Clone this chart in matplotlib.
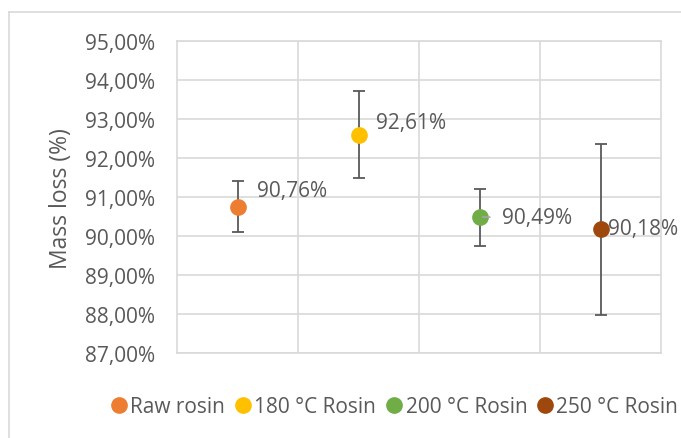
import matplotlib

matplotlib.use("Agg")

import matplotlib.pyplot as plt
from matplotlib.lines import Line2D
from matplotlib.ticker import FuncFormatter

# values
labels = ["Raw rosin", "180 °C Rosin", "200 °C Rosin", "250 °C Rosin"]
x_pos = [0.5, 1.5, 2.5, 3.5]
mass_loss = [90.76, 92.61, 90.49, 90.18]
errors = [0.66, 1.12, 0.73, 2.20]
colors = ["#ED7D31", "#FFC000", "#70AD47", "#9E480E"]
# data label offsets in pixels (x, y)
label_offsets = [(19, 16), (17, 12), (22, 0), (7, 1)]

TEXT = "#595959"
GRID = "#D9D9D9"

plt.rcParams["font.family"] = ["Open Sans", "DejaVu Sans"]

fig = plt.figure(figsize=(6.81, 4.39), dpi=100)
ax = fig.add_axes([0.2606, 0.1936, 0.71, 0.7096])

for x, y, err, col, lab, off in zip(x_pos, mass_loss, errors, colors, labels, label_offsets):
    ax.errorbar(x, y, yerr=err, fmt="none", ecolor=TEXT, elinewidth=1.3,
                capsize=4, capthick=1.3, zorder=3)
    ax.plot(x, y, "o", color=col, markersize=11, label=lab, zorder=4)
    ax.annotate(f"{y:.2f}%".replace(".", ","), (x, y), xytext=off,
                textcoords="offset pixels", ha="left", va="center",
                fontsize=15, color=TEXT, zorder=5)

# leader line for the 200 °C label
ax.annotate("", (x_pos[2], mass_loss[2]), xytext=(13, 0), textcoords="offset pixels",
            arrowprops=dict(arrowstyle="-", color="#A6A6A6", lw=1.2), zorder=4)

ax.set_xlim(0, 4)
ax.set_ylim(87, 95)
ax.set_xticks([1, 2, 3])
ax.set_yticks(range(87, 96))
ax.yaxis.set_major_formatter(FuncFormatter(lambda v, p: f"{v:.2f}%".replace(".", ",")))
ax.tick_params(axis="x", length=0, labelbottom=False)
ax.tick_params(axis="y", length=0, pad=16, labelsize=15, labelcolor=TEXT)
ax.grid(True, color=GRID, linewidth=1.2)
ax.set_axisbelow(True)
for spine in ax.spines.values():
    spine.set_color(GRID)
    spine.set_linewidth(1.2)

fig.text(61 / 681, 0.5484, "Mass loss (%)", rotation=90, ha="center", va="center",
         fontsize=16.5, color=TEXT)

leg = fig.legend(loc="center", bbox_to_anchor=(394.5 / 681, 1 - 408 / 439), ncol=4,
                 frameon=False, fontsize=15, handletextpad=0.15, columnspacing=0.45,
                 handlelength=0.8, labelcolor=TEXT, borderpad=0)

# chart area border (top and left edges visible)
fig.add_artist(Line2D([9 / 681, 1], [1 - 13 / 439] * 2, color=GRID, lw=1.2))
fig.add_artist(Line2D([9 / 681] * 2, [0, 1 - 13 / 439], color=GRID, lw=1.2))

fig.savefig("out.png", dpi=100)
